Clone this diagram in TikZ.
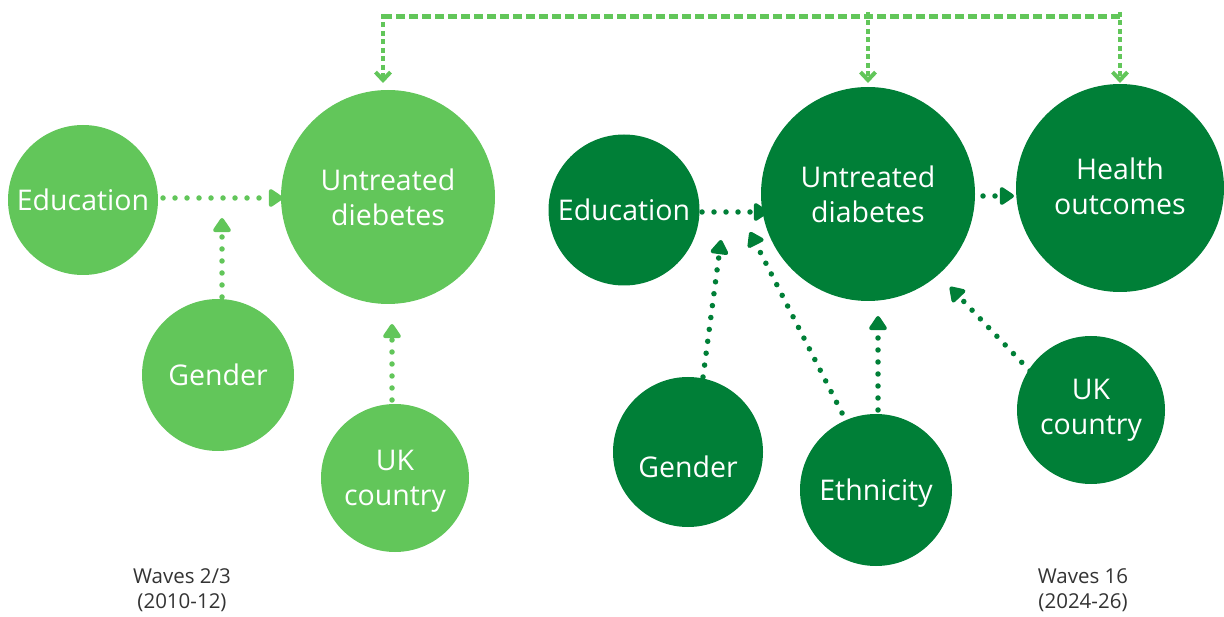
\documentclass[tikz,border=0pt]{standalone}
\usepackage{fontspec}
\setmainfont{Open Sans}
\usetikzlibrary{arrows.meta}
\definecolor{lgreen}{RGB}{98,198,90}
\definecolor{dgreen}{RGB}{0,127,55}
\definecolor{labelgray}{RGB}{51,51,51}
\tikzset{
  ctext/.style={text=white, align=center, font=\fontsize{28.5}{35}\selectfont, inner sep=0pt},
  circ/.style={circle, inner sep=0pt, minimum size=#1, ctext},
  lcirc/.style={circ=#1, fill=lgreen},
  dcirc/.style={circ=#1, fill=dgreen},
  dotarrow/.style={line width=5.5pt, line cap=round, dash pattern=on 0pt off 12pt,
    -{Triangle[round,length=16pt,width=20pt]}},
  topdash/.style={draw=lgreen, line width=5pt, dash pattern=on 9.5pt off 3.5pt},
  topvert/.style={draw=lgreen, line width=4.5pt, dash pattern=on 5pt off 3.5pt,
    -{Straight Barb[length=8pt,width=15pt,line width=4pt]}},
  wave/.style={text=labelgray, align=center, font=\fontsize{20.5}{25}\selectfont}
}
\begin{document}
\begin{tikzpicture}[x=1pt,y=-1pt]
\useasboundingbox (0,0) rectangle (1224,617);
% left group
\node[lcirc=150pt] (LE) at (83,200) {Education};
\node[lcirc=214pt] (LU) at (388,197) {Untreated\\diebetes};
\node[lcirc=152pt] (LG) at (218,375) {Gender};
\node[lcirc=148pt, label={[ctext, yshift=-3pt]center:UK\\country}] (LK) at (395,478) {};
% right group
\node[dcirc=151pt] (RE) at (624,210) {Education};
\node[dcirc=214pt] (RU) at (868,194) {Untreated\\diabetes};
\node[dcirc=208pt, label={[ctext, yshift=2pt]center:Health\\outcomes}] (RH) at (1120,188) {};
\node[dcirc=150pt, label={[ctext, yshift=-15pt]center:Gender}] (RG) at (688,452) {};
\node[dcirc=152pt, label={[ctext, yshift=-3pt]center:Ethnicity}] (RT) at (876,490) {};
\node[dcirc=148pt] (RK) at (1091,410) {UK\\country};
% wave labels
\node[wave] (W1) at (182,590) {Waves 2/3\\(2010-12)};
\node[wave] (W2) at (1083,590) {Waves 16\\(2024-26)};
% coordinates for free ends
\coordinate (a1s) at (163,198); \coordinate (a1e) at (283,198);
\coordinate (a2s) at (222,297); \coordinate (a2e) at (222,218);
\coordinate (a3s) at (392,400); \coordinate (a3e) at (392,324);
\coordinate (b1s) at (702,212); \coordinate (b1e) at (768,212);
\coordinate (b2s) at (703,377); \coordinate (b2e) at (721,240);
\coordinate (b3s) at (842,413); \coordinate (b3e) at (750,232);
\coordinate (b4s) at (878,410); \coordinate (b4e) at (878,316);
\coordinate (b5s) at (1030,371); \coordinate (b5e) at (950,287);
\coordinate (b6s) at (983,196); \coordinate (b6e) at (1014,196);
% left arrows
\draw[dotarrow, lgreen] (a1s) -- (a1e);
\draw[dotarrow, lgreen] (a2s) -- (a2e);
\draw[dotarrow, lgreen] (a3s) -- (a3e);
% right arrows
\draw[dotarrow, dgreen] (b1s) -- (b1e);
\draw[dotarrow, dgreen] (b2s) -- (b2e);
\draw[dotarrow, dgreen] (b3s) -- (b3e);
\draw[dotarrow, dgreen] (b4s) -- (b4e);
\draw[dotarrow, dgreen] (b5s) -- (b5e);
\draw[dotarrow, dgreen] (b6s) -- (b6e);
% top connector
\coordinate (tl) at (383,17);
\coordinate (tm) at (868,17);
\coordinate (tr) at (1120,17);
\coordinate (el) at (383,83);
\coordinate (em) at (868,83);
\coordinate (er) at (1120,83);
\draw[topdash] (tr) -- (tl);
\draw[topvert] ([yshift=3pt]tl) -- (el);
\draw[topvert] ([yshift=5pt]tm) -- (em);
\draw[topvert] ([yshift=5pt]tr) -- (er);
\end{tikzpicture}
\end{document}
